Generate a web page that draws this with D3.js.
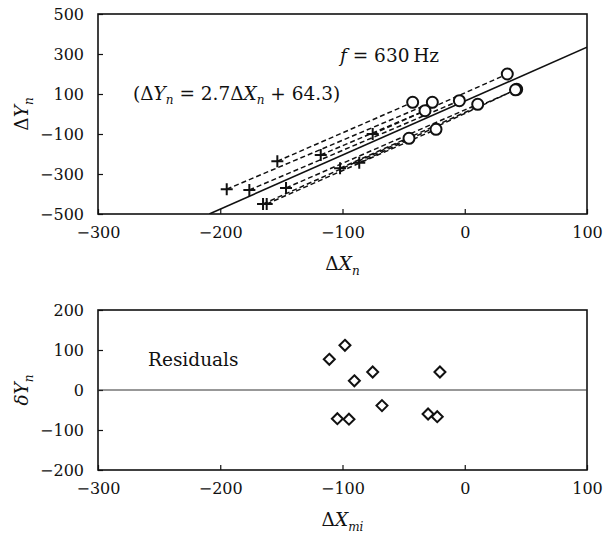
<!DOCTYPE html>
<html>
<head>
<meta charset="utf-8">
<script src="https://cdn.jsdelivr.net/npm/d3@7"></script>
<style>
  body { margin: 0; background: #fff; }
  svg text { fill: #111; }
</style>
</head>
<body>
<div id="chart"></div>
<script>
// tick values
const xTicks = [-300, -200, -100, 0, 100];
const yTicksTop = [500, 300, 100, -100, -300, -500];
const yTicksBottom = [200, 100, 0, -100, -200];

// measured pairs: "+" end and "o" end, same order
const plusX   = [-194.7, -176.2, -153.3, -146.2, -165, -162, -117.8, -102, -86.3, -75.3];
const plusY   = [-376, -380, -236, -370, -450, -450, -205, -271.5, -243.5, -100];
const circleX = [-26.5, -4.4, -42.6, 10.6, -45.6, -23.5, -32.5, 42.5, 41.5, 34.8];
const circleY = [58.5, 66.5, 58.5, 48.5, -121.5, -76.5, 16.5, 123.5, 121, 200];

// fitted line  dY = 2.7 dX + 64.3
const fitSlope = 2.7;
const fitIntercept = 64.3;

// residuals
const resX = [-110.8, -98, -90.3, -104.2, -94.7, -75.3, -67.7, -30, -22.5, -20.3];
const resY = [76.7, 111.7, 23, -71.7, -73, 45, -39, -60, -66.7, 45];

const W = 604, H = 538;
const left = 98, right = 587;
const topPanel = {y0: 14, y1: 214};
const botPanel = {y0: 310, y1: 470};
const serif = "DejaVu Serif";

const svg = d3.select("#chart").append("svg")
    .attr("width", W).attr("height", H)
    .attr("font-family", serif);

const x = d3.scaleLinear().domain([-300, 100]).range([left, right]);
const yTop = d3.scaleLinear().domain([-500, 500]).range([topPanel.y1, topPanel.y0]);
const yBot = d3.scaleLinear().domain([-200, 200]).range([botPanel.y1, botPanel.y0]);

const fs = 16;      // tick labels
const ts = 18.5;    // titles and notes
const ss = 12;      // subscripts
const fmt = d => d < 0 ? "\u2212" + Math.abs(d) : d;

function drawFrame(yScale, yTicks, panel) {
    const g = svg.append("g");
    // inward ticks
    const xAxis = d3.axisBottom(x).tickValues(xTicks).tickSizeInner(-5).tickSizeOuter(0)
        .tickFormat(fmt).tickPadding(13);
    const gx = g.append("g").attr("transform", `translate(0,${panel.y1})`).call(xAxis);
    const yAxis = d3.axisLeft(yScale).tickValues(yTicks).tickSizeInner(-5).tickSizeOuter(0)
        .tickFormat(fmt).tickPadding(14);
    const gy = g.append("g").attr("transform", `translate(${left},0)`).call(yAxis);
    [gx, gy].forEach(a => {
        a.attr("font-family", serif).attr("font-size", fs);
        a.select(".domain").remove();
        a.selectAll(".tick line").attr("stroke", "#111").attr("stroke-width", 1.2);
        a.selectAll(".tick text").attr("fill", "#111");
    });
    gy.selectAll(".tick text").attr("dy", "0.36em");
    g.append("rect")
        .attr("x", left).attr("y", panel.y0)
        .attr("width", right - left).attr("height", panel.y1 - panel.y0)
        .attr("fill", "none").attr("stroke", "#111").attr("stroke-width", 1.6);
    return g;
}

// ---------- top panel ----------
svg.append("clipPath").attr("id", "clipTop")
    .append("rect").attr("x", left).attr("y", topPanel.y0)
    .attr("width", right - left).attr("height", topPanel.y1 - topPanel.y0);

drawFrame(yTop, yTicksTop, topPanel);

const pairs = plusX.map((d, i) => ({x0: d, y0: plusY[i], x1: circleX[i], y1: circleY[i]}));

const gTop = svg.append("g").attr("clip-path", "url(#clipTop)");

// fit line across the panel
const fx0 = (-500 - fitIntercept) / fitSlope;
const fx1 = 100;
gTop.append("line")
    .attr("x1", x(fx0)).attr("y1", yTop(fitSlope * fx0 + fitIntercept))
    .attr("x2", x(fx1)).attr("y2", yTop(fitSlope * fx1 + fitIntercept))
    .attr("stroke", "#111").attr("stroke-width", 1.6);

gTop.selectAll(".pair").data(pairs).enter().append("line")
    .attr("class", "pair")
    .attr("x1", d => x(d.x0)).attr("y1", d => yTop(d.y0))
    .attr("x2", d => x(d.x1)).attr("y2", d => yTop(d.y1))
    .attr("stroke", "#111").attr("stroke-width", 1.5)
    .attr("stroke-dasharray", "5,3");

// plus markers
gTop.selectAll(".plus").data(pairs).enter().append("path")
    .attr("class", "plus")
    .attr("transform", d => `translate(${x(d.x0)},${yTop(d.y0)})`)
    .attr("d", "M-6,0H6M0,-6V6")
    .attr("stroke", "#111").attr("stroke-width", 2).attr("fill", "none");

// open circles
gTop.selectAll(".circ").data(pairs).enter().append("circle")
    .attr("class", "circ")
    .attr("cx", d => x(d.x1)).attr("cy", d => yTop(d.y1))
    .attr("r", 5.5)
    .attr("fill", "#fff").attr("stroke", "#111").attr("stroke-width", 2);

// annotations
const eq = svg.append("text").attr("x", 133).attr("y", 100).attr("font-size", ts);
eq.append("tspan").text("(\u0394");
eq.append("tspan").attr("font-style", "italic").text("Y");
eq.append("tspan").attr("font-style", "italic").attr("font-size", ss).attr("dy", 4).text("n");
eq.append("tspan").attr("dy", -4).text(" = 2.7\u0394");
eq.append("tspan").attr("font-style", "italic").text("X");
eq.append("tspan").attr("font-style", "italic").attr("font-size", ss).attr("dy", 4).text("n");
eq.append("tspan").attr("dy", -4).text(" + 64.3)");

const ft = svg.append("text").attr("x", 340).attr("y", 62).attr("font-size", ts);
ft.append("tspan").attr("font-style", "italic").text("f");
ft.append("tspan").text(" = 630\u2009Hz");

// axis titles top
const xtTop = svg.append("text").attr("x", (left + right) / 2).attr("y", 270)
    .attr("text-anchor", "middle").attr("font-size", ts);
xtTop.append("tspan").text("\u0394");
xtTop.append("tspan").attr("font-style", "italic").text("X");
xtTop.append("tspan").attr("font-style", "italic").attr("font-size", ss).attr("dy", 5).text("n");

const ytTop = svg.append("text")
    .attr("transform", `translate(28,${(topPanel.y0 + topPanel.y1) / 2}) rotate(-90)`)
    .attr("text-anchor", "middle").attr("font-size", ts);
ytTop.append("tspan").text("\u0394");
ytTop.append("tspan").attr("font-style", "italic").text("Y");
ytTop.append("tspan").attr("font-style", "italic").attr("font-size", ss).attr("dy", 5).text("n");

// ---------- bottom panel ----------
drawFrame(yBot, yTicksBottom, botPanel);

svg.append("line")
    .attr("x1", left).attr("x2", right)
    .attr("y1", yBot(0)).attr("y2", yBot(0))
    .attr("stroke", "#333").attr("stroke-width", 1.2);

const resData = resX.map((d, i) => ({x: d, y: resY[i]}));
svg.selectAll(".dia").data(resData).enter().append("path")
    .attr("class", "dia")
    .attr("transform", d => `translate(${x(d.x)},${yBot(d.y)})`)
    .attr("d", "M0,-5.5L5.5,0L0,5.5L-5.5,0Z")
    .attr("fill", "#fff").attr("stroke", "#111").attr("stroke-width", 2);

svg.append("text").attr("x", 148).attr("y", 366).attr("font-size", ts).text("Residuals");

const xtBot = svg.append("text").attr("x", (left + right) / 2).attr("y", 526)
    .attr("text-anchor", "middle").attr("font-size", ts);
xtBot.append("tspan").text("\u0394");
xtBot.append("tspan").attr("font-style", "italic").text("X");
xtBot.append("tspan").attr("font-style", "italic").attr("font-size", ss).attr("dy", 5).text("mi");

const ytBot = svg.append("text")
    .attr("transform", `translate(28,${(botPanel.y0 + botPanel.y1) / 2}) rotate(-90)`)
    .attr("text-anchor", "middle").attr("font-size", ts);
ytBot.append("tspan").attr("font-style", "italic").text("\u03B4Y");
ytBot.append("tspan").attr("font-style", "italic").attr("font-size", ss).attr("dy", 5).text("n");
</script>
</body>
</html>
